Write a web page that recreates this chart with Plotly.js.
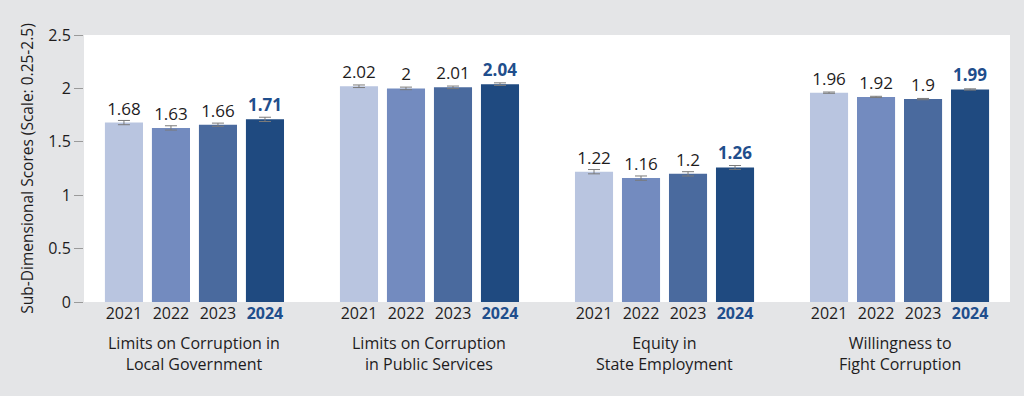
<!DOCTYPE html>
<html>
<head>
<meta charset="utf-8">
<script src="https://cdn.plot.ly/plotly-3.0.1.min.js"></script>
<style>html,body{margin:0;padding:0;background:#e4e5e7;}#chart{width:1024px;height:396px;}</style>
</head>
<body>
<div id="chart"></div>
<script>
const groups = ["Limits on Corruption in<br>Local Government", "Limits on Corruption<br>in Public Services", "Equity in<br>State Employment", "Willingness to<br>Fight Corruption"];
const years = ["2021", "2022", "2023", "2024"];
const scores2021 = [1.68, 2.02, 1.22, 1.96];
const scores2022 = [1.63, 2.00, 1.16, 1.92];
const scores2023 = [1.66, 2.01, 1.20, 1.90];
const scores2024 = [1.71, 2.04, 1.26, 1.99];
const err2021 = [0.02, 0.012, 0.02, 0.006];
const err2022 = [0.02, 0.012, 0.02, 0.006];
const err2023 = [0.015, 0.012, 0.02, 0.006];
const err2024 = [0.02, 0.012, 0.018, 0.006];
const yTicks = [0, 0.5, 1, 1.5, 2, 2.5];
const yTickText = ["0", "0.5", "1", "1.5", "2", "2.5"];

const series = [scores2021, scores2022, scores2023, scores2024];
const errs = [err2021, err2022, err2023, err2024];
const colors = ["#b9c5e0", "#738bbf", "#4a6a9e", "#1f4a80"];
const highlight = "#1f4e8c";
const ink = "#1e1c1d";
const slot = years.length + 1; // one empty slot between groups
const pos = (g, i) => g * slot + i;

const traces = years.map((yr, i) => {
  const last = i === years.length - 1;
  return {
    type: "bar",
    name: yr,
    x: groups.map((_, g) => pos(g, i)),
    y: series[i],
    width: 0.81,
    marker: {color: colors[i], line: {width: 0}},
    error_y: {type: "data", array: errs[i], visible: true, color: "#7a7a7a", thickness: 1, width: 6},
    text: series[i].map(v => String(v)),
    textposition: "outside",
    cliponaxis: false,
    textfont: {family: "Open Sans, sans-serif", size: 17, color: last ? highlight : ink, weight: last ? 700 : 400},
    hoverinfo: "skip"
  };
});

const tickvals = [], ticktext = [];
groups.forEach((_, g) => years.forEach((yr, i) => {
  tickvals.push(pos(g, i));
  ticktext.push(i === years.length - 1 ? '<b><span style="color:' + highlight + '">' + yr + '</span></b>' : yr);
}));

const annotations = groups.map((name, g) => ({
  xref: "x", yref: "paper",
  x: pos(g, (years.length - 1) / 2), y: -0.105,
  xanchor: "center", yanchor: "top",
  text: name, showarrow: false,
  font: {family: "Open Sans, sans-serif", size: 16, color: ink}
}));

const layout = {
  width: 1024, height: 396,
  margin: {l: 84, r: 14, t: 35, b: 94},
  paper_bgcolor: "#e4e5e7",
  plot_bgcolor: "#ffffff",
  barmode: "overlay",
  showlegend: false,
  font: {family: "Open Sans, sans-serif", color: ink},
  xaxis: {
    range: [-0.85, (groups.length - 1) * slot + years.length - 1 + 0.85],
    tickmode: "array", tickvals: tickvals, ticktext: ticktext,
    ticks: "", showgrid: false, zeroline: false, showline: false,
    tickfont: {size: 16, color: ink}
  },
  yaxis: {
    range: [0, 2.5],
    tickmode: "array", tickvals: yTicks, ticktext: yTickText,
    ticks: "outside", ticklen: 9, tickcolor: "#9a9a9a", tickwidth: 1,
    showgrid: false, zeroline: false, showline: false,
    tickfont: {size: 16, color: ink},
    title: {text: "Sub-Dimensional Scores (Scale: 0.25-2.5)", font: {size: 15.5, color: ink}, standoff: 10}
  },
  annotations: annotations
};

Plotly.newPlot("chart", traces, layout, {staticPlot: true, displayModeBar: false});
</script>
</body>
</html>
